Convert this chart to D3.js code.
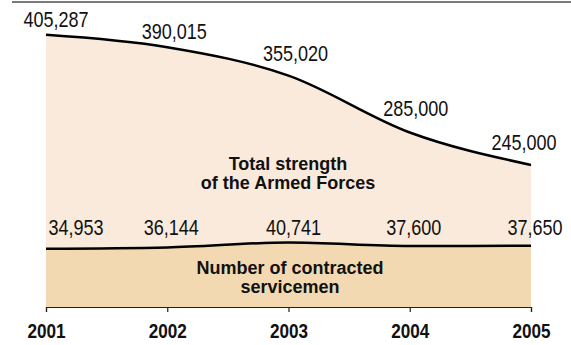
<!DOCTYPE html>
<html>
<head>
<meta charset="utf-8">
<script src="https://cdn.jsdelivr.net/npm/d3@7"></script>
<style>
  body { margin: 0; background: #fff; }
  svg { display: block; }
  .num { font-family: "Liberation Sans", Arial, sans-serif; font-size: 21.5px; fill: #111; }
  .lbl { font-family: "Liberation Sans", Arial, sans-serif; font-weight: bold; font-size: 18px; fill: #111; }
  .yr { font-family: "Liberation Sans", Arial, sans-serif; font-weight: bold; font-size: 19.5px; fill: #111; }
</style>
</head>
<body>
<svg id="chart" width="571" height="345"></svg>
<script>
const years = [2001, 2002, 2003, 2004, 2005]
const totalStrength = [405287, 390015, 355020, 285000, 245000]
const contracted = [34953, 36144, 40741, 37600, 37650]
const totalTitle = ['Total strength', 'of the Armed Forces']
const contractedTitle = ['Number of contracted', 'servicemen']

const fmt = d3.format(',')
const svg = d3.select('#chart')

const baseY = 307
const x = d3.scaleLinear().domain([2001, 2005]).range([46, 531])
// the two series use their own vertical scales in the original graphic
const yTotal = d3.scaleLinear().domain([70000, 410000]).range([baseY, 31])
const yContr = d3.scaleLinear().domain([30000, 45000]).range([254, 238])

// grey rule at top
svg.append('line')
  .attr('x1', 12).attr('x2', 571).attr('y1', 2).attr('y2', 2)
  .attr('stroke', '#7a7a7a').attr('stroke-width', 2)

const totalData = years.map((y, i) => ({ year: y, v: totalStrength[i] }))
const contrData = years.map((y, i) => ({ year: y, v: contracted[i] }))

const curve = d3.curveMonotoneX
const areaTotal = d3.area().x(d => x(d.year)).y0(baseY).y1(d => yTotal(d.v)).curve(curve)
const lineTotal = d3.line().x(d => x(d.year)).y(d => yTotal(d.v)).curve(curve)
const areaContr = d3.area().x(d => x(d.year)).y0(baseY).y1(d => yContr(d.v)).curve(curve)
const lineContr = d3.line().x(d => x(d.year)).y(d => yContr(d.v)).curve(curve)

svg.append('path').datum(totalData).attr('d', areaTotal).attr('fill', '#f9eadb')
svg.append('path').datum(contrData).attr('d', areaContr).attr('fill', '#f3d9b2')
svg.append('path').datum(totalData).attr('d', lineTotal)
  .attr('fill', 'none').attr('stroke', '#000').attr('stroke-width', 2.5)
svg.append('path').datum(contrData).attr('d', lineContr)
  .attr('fill', 'none').attr('stroke', '#000').attr('stroke-width', 2.5)

// x axis
const axis = svg.append('g')
  .attr('transform', `translate(0,${baseY})`)
  .call(d3.axisBottom(x).tickValues(years).tickFormat(d3.format('d')).tickSize(5).tickPadding(12))
axis.select('.domain').attr('stroke', '#222').attr('stroke-width', 1.2)
axis.selectAll('.tick line').attr('stroke', '#222').attr('stroke-width', 1.2)
axis.selectAll('.tick text').attr('class', 'yr').attr('font-size', null).attr('font-family', null)
  .attr('transform', 'scale(0.88,1)')

// value labels, squeezed horizontally to mimic the condensed face
const squeeze = 0.84
const totalDx = [10, 7, 7, 6, -7]
const totalDy = [8, 8, 15, 16, 15]
svg.append('g').selectAll('text').data(totalData).join('text')
  .attr('class', 'num')
  .attr('text-anchor', 'middle')
  .attr('transform', (d, i) =>
    `translate(${x(d.year) + totalDx[i]},${yTotal(d.v) - totalDy[i]}) scale(${squeeze},1)`)
  .text(d => fmt(d.v))

const contrDx = [30, 4, 5, 4, 4]
svg.append('g').selectAll('text').data(contrData).join('text')
  .attr('class', 'num')
  .attr('text-anchor', 'middle')
  .attr('transform', (d, i) => `translate(${x(d.year) + contrDx[i]},235) scale(${squeeze},1)`)
  .text(d => fmt(d.v))

// series titles
svg.append('text').attr('class', 'lbl').attr('text-anchor', 'middle')
  .selectAll('tspan').data(totalTitle).join('tspan')
  .attr('x', 288).attr('y', (d, i) => 170 + i * 19).text(d => d)
svg.append('text').attr('class', 'lbl').attr('text-anchor', 'middle')
  .selectAll('tspan').data(contractedTitle).join('tspan')
  .attr('x', 290).attr('y', (d, i) => 274 + i * 19).text(d => d)
</script>
</body>
</html>
